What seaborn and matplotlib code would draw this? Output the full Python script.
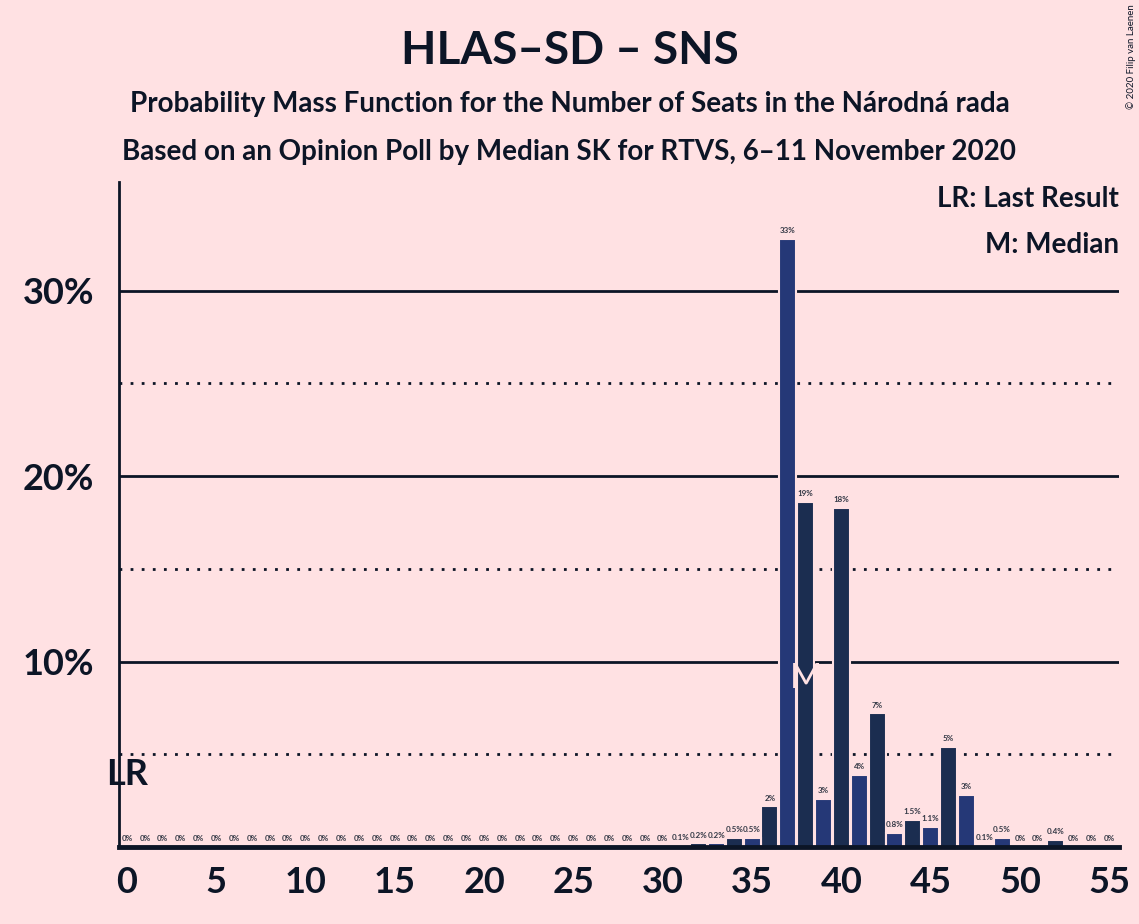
import matplotlib
matplotlib.use("Agg")
import matplotlib.pyplot as plt
import seaborn as sns
import pandas as pd
import numpy as np

# ---- data ----
seats = list(range(0, 56))
probs = [0.0] * 31 + [0.1, 0.2, 0.2, 0.5, 0.5, 2.2, 32.8, 18.6, 2.6, 18.3,
                      3.9, 7.2, 0.78, 1.46, 1.08, 5.4, 2.8, 0.1, 0.5, 0.0,
                      0.0, 0.4, 0.0, 0.0, 0.0]
yticks = [10, 20, 30]
ytick_labels = ["10%", "20%", "30%"]
xticks = [0, 5, 10, 15, 20, 25, 30, 35, 40, 45, 50, 55]
last_result = 0
median = 38

title = "HLAS–SD – SNS"
subtitle1 = "Probability Mass Function for the Number of Seats in the Národná rada"
subtitle2 = "Based on an Opinion Poll by Median SK for RTVS, 6–11 November 2020"
legend_lr = "LR: Last Result"
legend_m = "M: Median"
copyright_text = "© 2020 Filip van Laenen"

BG = "#FFE1E3"
DARK = "#0C1526"
BLUE = "#253877"
NAVY = "#1B2D50"

sns.set_theme(style="white")
plt.rcParams["font.family"] = ["Lato", "DejaVu Sans"]

df = pd.DataFrame({"seats": seats, "prob": probs,
                   "parity": ["even" if s % 2 == 0 else "odd" for s in seats]})

fig = plt.figure(figsize=(11.39, 9.24), dpi=100, facecolor=BG)
ax = fig.add_axes([0.1045, 0.0833, 0.878, 0.7197])
ax.set_facecolor(BG)

# gridlines
for v in [5, 15, 25]:
    ax.axhline(v, color=DARK, lw=2, ls=(0, (1, 3)), zorder=0)
for v in [10, 20, 30]:
    ax.axhline(v, color=DARK, lw=2, zorder=0)

sns.barplot(data=df, x="seats", y="prob", hue="parity",
            palette={"even": NAVY, "odd": BLUE}, native_scale=True,
            width=0.95, legend=False, ax=ax, edgecolor=BG, linewidth=1.5,
            zorder=2, saturation=1)

for s, p in zip(seats, probs):
    lab = "0%" if p == 0 else (f"{p:.1f}%" if p < 2 else f"{p:.0f}%")
    ax.text(s, p + 0.25, lab, ha="center", va="bottom", fontsize=5.8,
            color="#333845", fontweight="bold", zorder=3)

ax.set_xlim(-0.45, 55.55)
ax.set_ylim(0, 35.85)
ax.set_xticks(xticks)
ax.set_xticklabels([str(x) for x in xticks])
ax.set_yticks(yticks)
ax.set_yticklabels(ytick_labels)
ax.tick_params(axis="both", length=0, labelsize=26, labelcolor=DARK, pad=14)
for lab in ax.get_xticklabels() + ax.get_yticklabels():
    lab.set_fontweight("bold")
ax.tick_params(axis="y", pad=18)
ax.set_xlabel("")
ax.set_ylabel("")

for side in ["top", "right"]:
    ax.spines[side].set_visible(False)
ax.spines["left"].set_color(DARK)
ax.spines["left"].set_linewidth(2)
ax.spines["bottom"].set_color(DARK)
ax.spines["bottom"].set_linewidth(3.5)
ax.spines["left"].set_zorder(5)
ax.spines["bottom"].set_zorder(5)

# annotations
ax.text(last_result, 3.9, "LR", ha="center", va="center", fontsize=26,
        fontweight="bold", color=DARK, zorder=6)
ax.text(median, 9.1, "M", ha="center", va="center", fontsize=25,
        color=BG, zorder=6)

ax.text(1.0, 0.975, legend_lr, transform=ax.transAxes, ha="right", va="center",
        fontsize=20, fontweight="bold", color=DARK)
ax.text(1.0, 0.905, legend_m, transform=ax.transAxes, ha="right", va="center",
        fontsize=20, fontweight="bold", color=DARK)

fig.text(0.5, 0.945, title, ha="center", va="center", fontsize=33,
         fontweight="bold", color=DARK)
fig.text(0.5, 0.887, subtitle1, ha="center", va="center", fontsize=20,
         fontweight="bold", color=DARK)
fig.text(0.5, 0.835, subtitle2, ha="center", va="center", fontsize=20,
         fontweight="bold", color=DARK)
fig.text(0.993, 0.995, copyright_text, ha="center", va="top", rotation=90,
         fontsize=7, color=DARK)

fig.savefig("out.png", dpi=100, facecolor=BG)
